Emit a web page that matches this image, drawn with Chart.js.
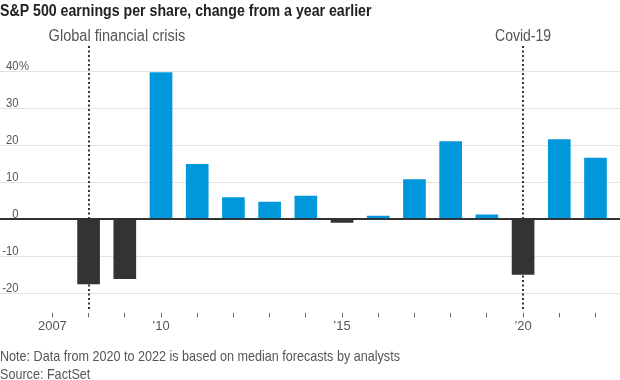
<!DOCTYPE html>
<html><head><meta charset="utf-8">
<script src="https://cdn.jsdelivr.net/npm/chart.js@4.4.1/dist/chart.umd.min.js"></script>
<style>html,body{margin:0;padding:0;background:#fff;} canvas{display:block;}</style>
</head><body>
<canvas id="c" width="620" height="380"></canvas>
<script>
// ---- data ----
const years = [2008, 2009, 2010, 2011, 2012, 2013, 2014, 2015, 2016, 2017, 2018, 2019, 2020, 2021, 2022];
const epsChange = [-17.5, -16.1, 39.8, 14.9, 5.9, 4.7, 6.3, -0.8, 0.9, 10.8, 21.1, 1.2, -14.9, 21.6, 16.6];
const yTickValues = [-20, -10, 0, 10, 20, 30, 40];
const xTickYears = [2007, 2008, 2009, 2010, 2011, 2012, 2013, 2014, 2015, 2016, 2017, 2018, 2019, 2020, 2021, 2022];
const xLabelYears = [2007, 2010, 2015, 2020];
const xLabelTexts = ['2007', '\u201910', '\u201915', '\u201920'];
const eventNames = ['Global financial crisis', 'Covid-19'];
const eventYears = [2008, 2020];
const titleText = 'S&P 500 earnings per share, change from a year earlier';
const noteLines = ['Note: Data from 2020 to 2022 is based on median forecasts by analysts', 'Source: FactSet'];

// ---- style ----
const FONT = "'Liberation Sans', Arial, sans-serif";
const BLUE = '#0098db';
const DARK = '#333333';
const TEXT = '#555555';

function narrowText(ctx, text, x, y, sx, align) {
  ctx.save();
  ctx.translate(x, y);
  ctx.scale(sx, 1);
  ctx.textAlign = align;
  ctx.fillText(text, 0, 0);
  ctx.restore();
}

const overlay = {
  id: 'overlay',
  beforeDatasetsDraw(chart) {
    const {ctx, scales: {x, y}} = chart;
    ctx.save();
    ctx.strokeStyle = DARK;
    ctx.lineWidth = 2;
    ctx.setLineDash([2, 2.5]);
    eventYears.forEach(yr => {
      const px = Math.round(x.getPixelForValue(yr));
      ctx.beginPath();
      ctx.moveTo(px, y.top);
      ctx.lineTo(px, y.bottom - 4);
      ctx.stroke();
    });
    ctx.restore();
  },
  afterDatasetsDraw(chart) {
    const {ctx, chartArea, scales: {y}} = chart;
    ctx.save();
    const zy = Math.round(y.getPixelForValue(0));
    ctx.fillStyle = DARK;
    ctx.fillRect(chartArea.left, zy - 1, chartArea.right - chartArea.left, 1.6);
    ctx.restore();
  },
  afterDraw(chart) {
    const {ctx, scales: {x, y}} = chart;
    ctx.save();
    ctx.textBaseline = 'alphabetic';
    // title
    ctx.fillStyle = '#222';
    ctx.font = "bold 16px " + FONT;
    narrowText(ctx, titleText, 0, 15.5, 0.885, 'left');
    // event labels
    ctx.fillStyle = TEXT;
    ctx.font = "16px " + FONT;
    narrowText(ctx, eventNames[0], x.getPixelForValue(eventYears[0]) - 40, 40.5, 0.91, 'left');
    narrowText(ctx, eventNames[1], x.getPixelForValue(eventYears[1]), 40.5, 0.875, 'center');
    // y labels
    ctx.font = "12.5px " + FONT;
    y.ticks.forEach((t, i) => {
      const py = y.getPixelForValue(t.value) - 1.5;
      narrowText(ctx, String(t.value), 18.5, py, 0.9, 'right');
      if (i === y.ticks.length - 1) {
        narrowText(ctx, '%', 19, py, 0.9, 'left');
      }
    });
    // notes
    ctx.font = "15px " + FONT;
    narrowText(ctx, noteLines[0], 0, 361, 0.84, 'left');
    narrowText(ctx, noteLines[1], 0, 378.5, 0.84, 'left');
    ctx.restore();
  }
};

new Chart(document.getElementById('c'), {
  type: 'bar',
  data: {
    datasets: [{
      data: years.map((yr, i) => ({x: yr, y: epsChange[i]})),
      backgroundColor: epsChange.map(v => v < 0 ? DARK : BLUE),
      barThickness: 22,
      borderWidth: 0
    }]
  },
  options: {
    responsive: false,
    animation: false,
    devicePixelRatio: 1,
    events: [],
    layout: {padding: {top: 46, bottom: 45, left: 0, right: 0}},
    plugins: {legend: {display: false}, tooltip: {enabled: false}, title: {display: false}},
    scales: {
      x: {
        type: 'linear',
        offset: false,
        min: 2005.553,
        max: 2022.677,
        afterBuildTicks: s => { s.ticks = xTickYears.map(v => ({value: v})); },
        border: {display: false},
        grid: {offset: false, drawOnChartArea: false, drawTicks: true, tickLength: 4, color: '#666', lineWidth: 1},
        ticks: {
          autoSkip: false, maxRotation: 0, padding: 1,
          color: TEXT,
          font: {family: FONT, size: 13},
          callback: v => { const k = xLabelYears.indexOf(v); return k >= 0 ? xLabelTexts[k] : ''; }
        }
      },
      y: {
        min: -25.5,
        max: 47,
        afterBuildTicks: s => { s.ticks = yTickValues.map(v => ({value: v})); },
        border: {display: false},
        grid: {
          drawTicks: false,
          color: c => c.tick && c.tick.value === 0 ? DARK : '#e3e3e3',
          lineWidth: 1
        },
        ticks: {display: false}
      }
    }
  },
  plugins: [overlay]
});
</script>
</body></html>
